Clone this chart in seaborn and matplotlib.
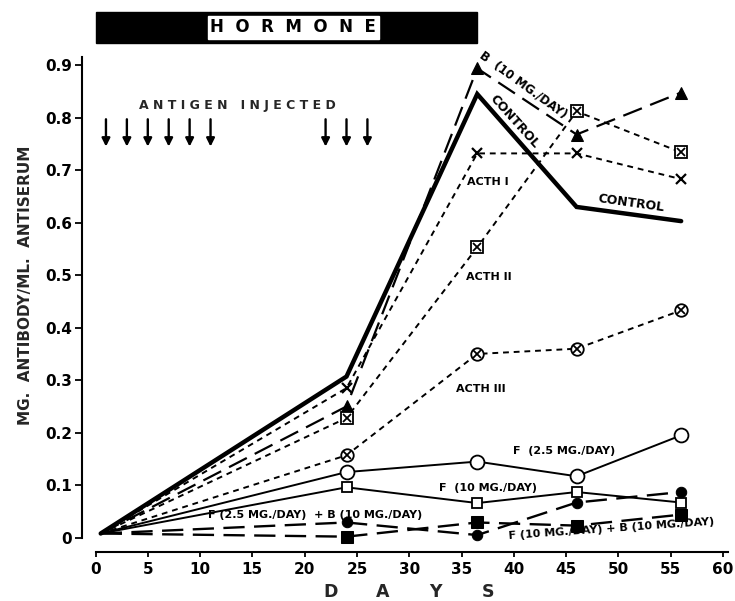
import matplotlib
matplotlib.use("Agg")
import matplotlib.pyplot as plt
from matplotlib.patches import Rectangle
import seaborn as sns

# ---- data ----
days = [0.5, 24, 36.5, 46, 56]
control = [0.008, 0.307, 0.845, 0.630, 0.603]
b10 = [0.008, 0.250, 0.894, 0.768, 0.848]
acth1 = [0.008, 0.285, 0.732, 0.732, 0.683]
acth2 = [0.008, 0.228, 0.553, 0.812, 0.734]
acth3 = [0.008, 0.157, 0.350, 0.360, 0.433]
f25 = [0.008, 0.125, 0.145, 0.117, 0.195]
f10 = [0.008, 0.096, 0.066, 0.087, 0.067]
f25_b10 = [0.008, 0.029, 0.005, 0.067, 0.087]
f10_b10 = [0.008, 0.002, 0.029, 0.023, 0.044]

injection_days = [1, 3, 5, 7, 9, 11, 22, 24, 26]
hormone_start, hormone_end = 0, 36.5

x_ticks = [0, 5, 10, 15, 20, 25, 30, 35, 40, 45, 50, 55, 60]
y_ticks = [0, 0.1, 0.2, 0.3, 0.4, 0.5, 0.6, 0.7, 0.8, 0.9]
y_tick_labels = ["0", "0.1", "0.2", "0.3", "0.4", "0.5", "0.6", "0.7", "0.8", "0.9"]

sns.set_style("ticks")
plt.rcParams["font.family"] = ["DejaVu Sans"]
plt.rcParams["font.weight"] = "bold"

fig = plt.figure(figsize=(7.35, 6.01), dpi=100)
ax = fig.add_axes([95.5 / 735, (601 - 537.7) / 601, (723 - 95.5) / 735, (537.7 - 54.7) / 601])

K = "black"
mk = [1, 2, 3, 4]

def line(y, **kw):
    base = dict(color=K, errorbar=None, ax=ax, markevery=mk, clip_on=False,
                markeredgecolor=K, legend=False)
    base.update(kw)
    sns.lineplot(x=days, y=y, **base)

def overlay(y, marker, size, lw=1.3):
    sns.lineplot(x=days[1:], y=y[1:], ax=ax, color=K, errorbar=None, linestyle="none",
                 marker=marker, markersize=size, markeredgecolor=K, markeredgewidth=lw,
                 clip_on=False, legend=False)

# control: thick solid
line(control, linewidth=3.2, markevery=None, solid_joinstyle="miter")
# B 10 mg/day: long dashes, filled triangles
line(b10, linewidth=1.6, linestyle=(0, (9, 4)), marker="^", markersize=8,
     markerfacecolor=K)
# ACTH I: short dashes, x
line(acth1, linewidth=1.4, linestyle=(0, (3, 2.5)), marker="x", markersize=7.5,
     markeredgewidth=1.6)
# ACTH II: short dashes, boxed x
line(acth2, linewidth=1.4, linestyle=(0, (3, 2.5)), marker="s", markersize=8,
     markerfacecolor="white", markeredgewidth=1.3)
overlay(acth2, "x", 6)
# ACTH III: short dashes, circled x
line(acth3, linewidth=1.4, linestyle=(0, (3, 2.5)), marker="o", markersize=9,
     markerfacecolor="white", markeredgewidth=1.3)
overlay(acth3, "x", 5.5)
# F 2.5: thin solid, open circles
line(f25, linewidth=1.4, marker="o", markersize=10, markerfacecolor="white",
     markeredgewidth=1.3)
# F 10: thin solid, open squares
line(f10, linewidth=1.4, marker="s", markersize=7.5, markerfacecolor="white",
     markeredgewidth=1.3)
# F 2.5 + B 10: dashes, filled circles
line(f25_b10, linewidth=1.7, linestyle=(0, (9, 4)), marker="o", markersize=7.5,
     markerfacecolor=K)
# F 10 + B 10: dashes, filled squares
line(f10_b10, linewidth=1.7, linestyle=(0, (9, 4)), marker="s", markersize=8,
     markerfacecolor=K)

# axes styling
ax.set_xlim(0, 60)
ax.set_ylim(0, 0.92)
ax.set_xticks(x_ticks)
ax.set_xticklabels([str(t) for t in x_ticks])
ax.set_yticks(y_ticks)
ax.set_yticklabels(y_tick_labels)
for s in ["top", "right"]:
    ax.spines[s].set_visible(False)
ax.spines["left"].set_position(("outward", 9.7))
ax.spines["bottom"].set_position(("outward", 10.3))
ax.spines["left"].set_bounds(0, 0.915)
ax.spines["bottom"].set_bounds(0, 60.5)
for s in ["left", "bottom"]:
    ax.spines[s].set_linewidth(1.5)
    ax.spines[s].set_color(K)
ax.tick_params(axis="y", direction="out", length=5, width=1.3, pad=2.3,
               labelsize=11, colors=K)
ax.tick_params(axis="x", direction="out", length=3.5, width=1.3, pad=3.5,
               labelsize=11, colors=K)
for lab in ax.get_xticklabels() + ax.get_yticklabels():
    lab.set_fontweight("bold")
ax.set_xlabel("")
ax.set_ylabel("MG.  ANTIBODY/ML.  ANTISERUM", fontsize=11, fontweight="bold")
ax.yaxis.set_label_coords(-0.100, 0.523)

# DAYS letters
for letter, xd in zip("DAYS", [22.5, 27.5, 32.5, 37.5]):
    ax.text(xd, -0.113, letter, ha="center", va="center", fontsize=12.5,
            fontweight="bold", transform=ax.get_xaxis_transform(), clip_on=False)

# hormone bar
ax.add_patch(Rectangle((hormone_start, 0.943), hormone_end - hormone_start, 0.058,
                       facecolor=K, edgecolor=K, clip_on=False))
ax.text(18.9, 0.972, "H  O  R  M  O  N  E", ha="center", va="center",
        fontsize=12, fontweight="bold", color=K, clip_on=False,
        bbox=dict(boxstyle="square,pad=0.15", facecolor="white", edgecolor="white"))

# antigen injections
for d in injection_days:
    ax.annotate("", xy=(d, 0.745), xytext=(d, 0.797),
                arrowprops=dict(arrowstyle="-|>", color=K, lw=1.7,
                                mutation_scale=12, shrinkA=0, shrinkB=0))
ax.text(13.6, 0.824, "A N T I G E N   I N J E C T E D", ha="center", va="center",
        fontsize=9, fontweight="bold")

# line labels
lab = dict(ha="center", va="center", fontweight="bold", rotation_mode="anchor", color=K)
ax.text(40.9, 0.862, "B  (10 MG./DAY)", fontsize=8.5, rotation=-36, **lab)
ax.text(40.1, 0.792, "CONTROL", fontsize=9, rotation=-48, **lab)
ax.text(51.2, 0.638, "CONTROL", fontsize=9, rotation=-8, **lab)
ax.text(37.5, 0.677, "ACTH I", fontsize=8, **lab)
ax.text(37.6, 0.496, "ACTH II", fontsize=8, **lab)
ax.text(36.8, 0.283, "ACTH III", fontsize=8, **lab)
ax.text(44.8, 0.165, "F  (2.5 MG./DAY)", fontsize=8, **lab)
ax.text(37.5, 0.095, "F  (10 MG./DAY)", fontsize=8, **lab)
ax.text(21.0, 0.043, "F (2.5 MG./DAY)  + B (10 MG./DAY)", fontsize=8, **lab)
ax.text(49.3, 0.017, "F (10 MG./DAY) + B (10 MG./DAY)", fontsize=8, rotation=4, **lab)

fig.savefig("out.png", dpi=100)
